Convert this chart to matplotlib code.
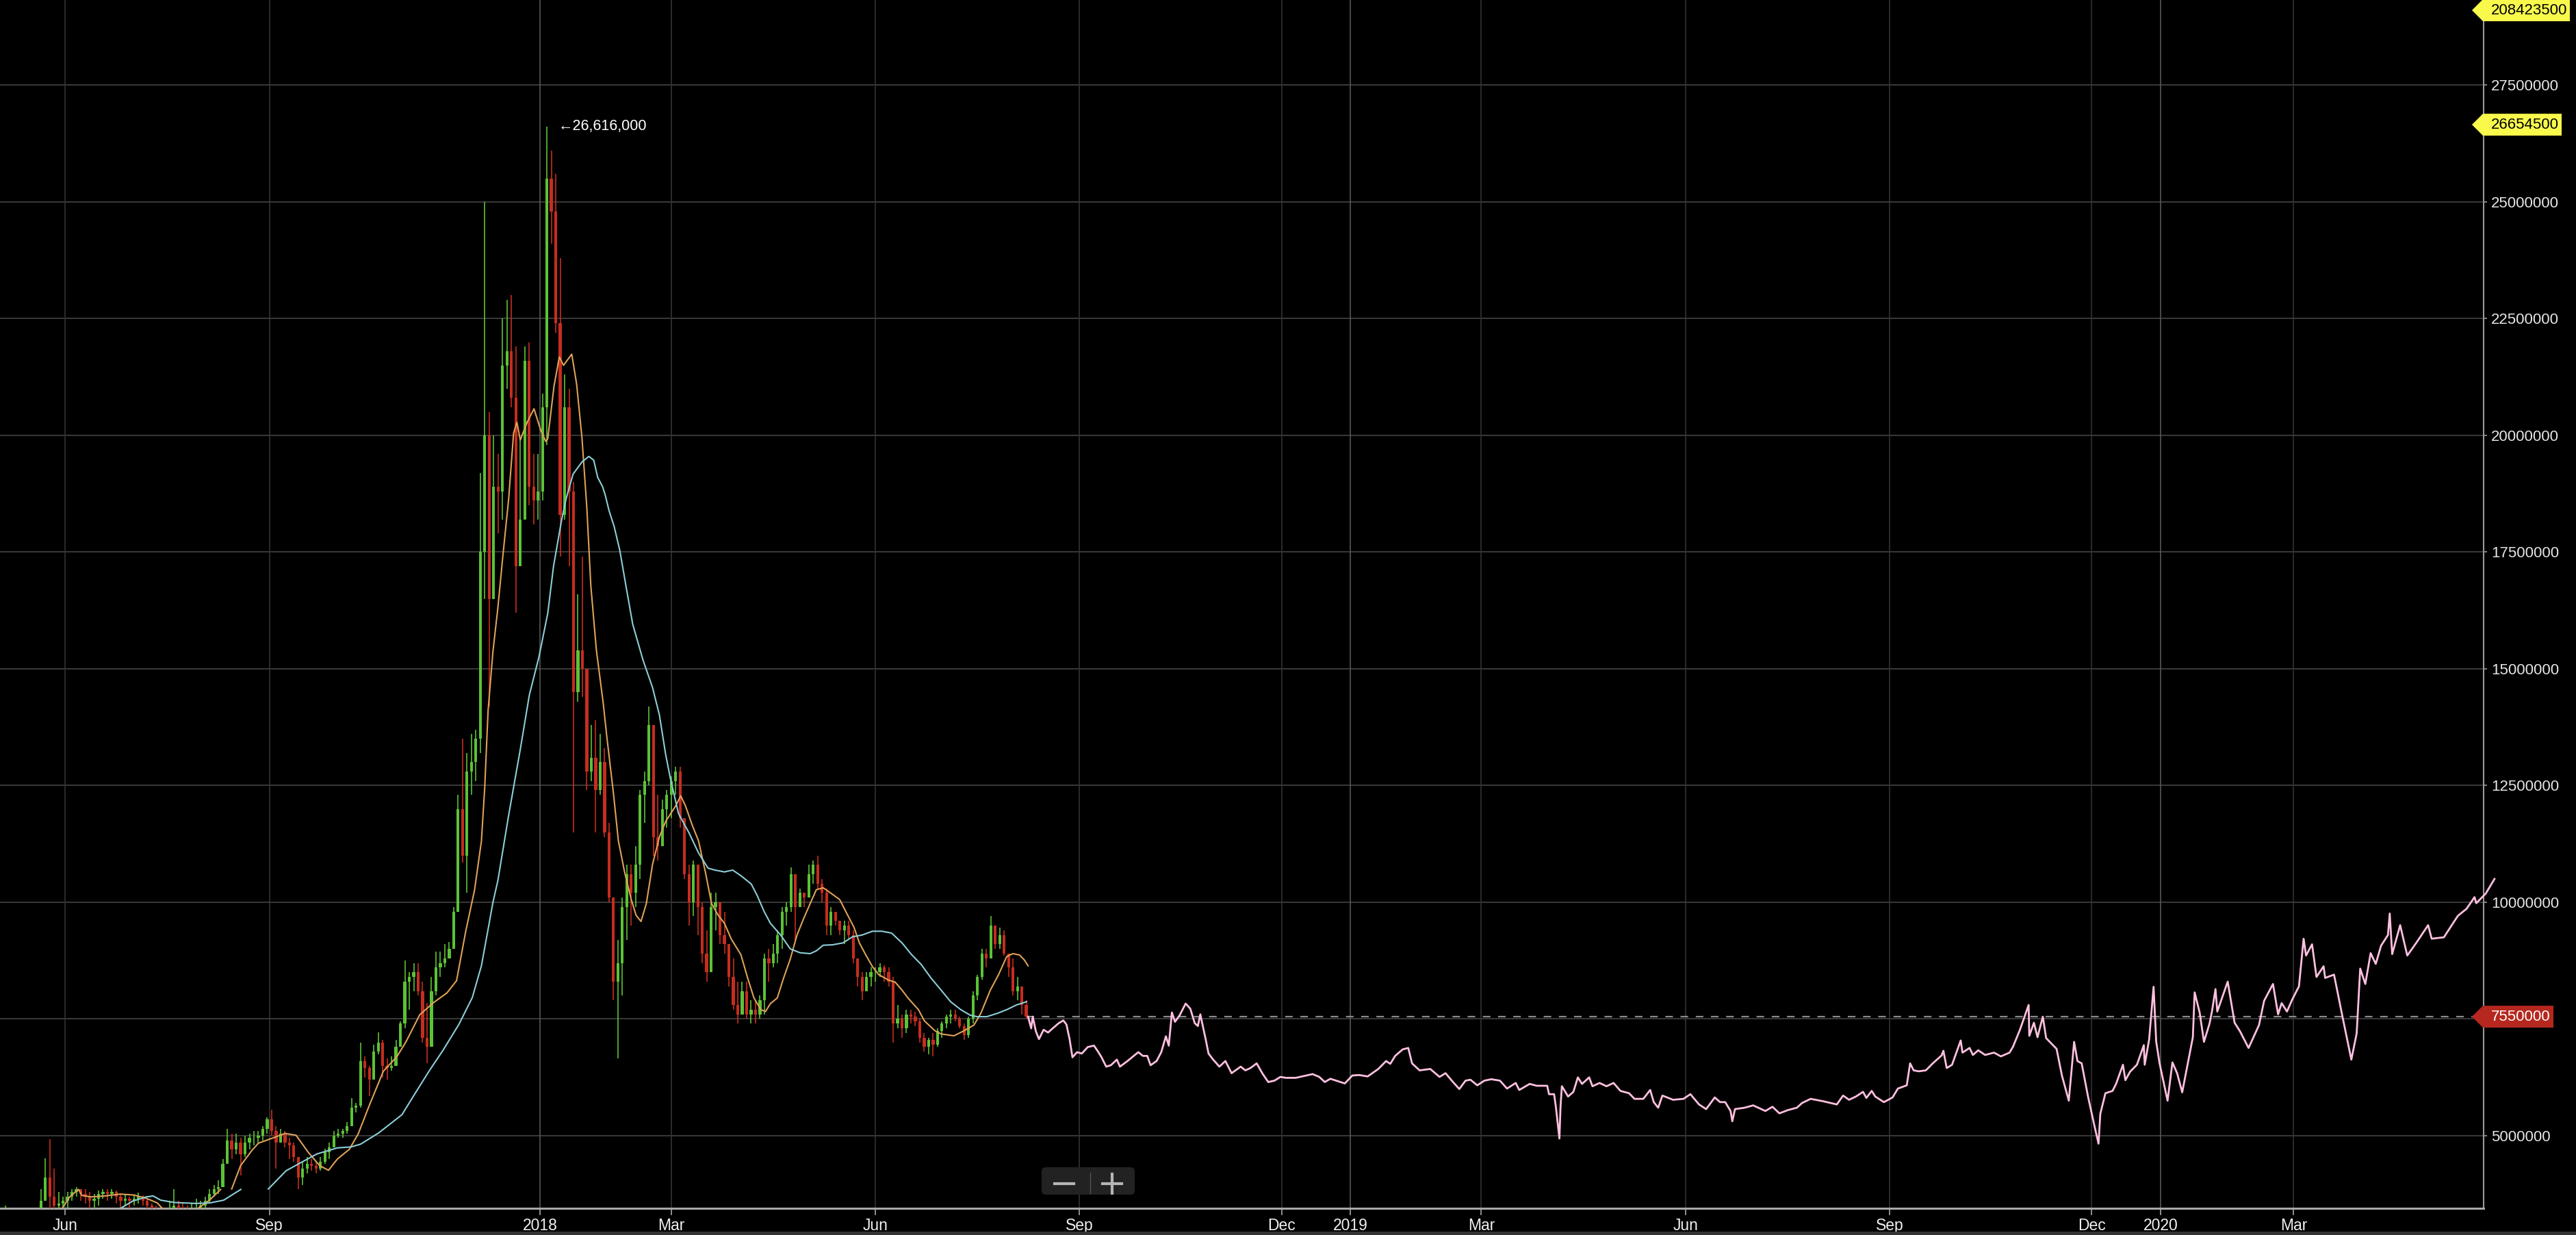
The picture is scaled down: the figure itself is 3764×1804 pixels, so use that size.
import numpy as np
import pandas as pd
import matplotlib
matplotlib.use("Agg")
import matplotlib.pyplot as plt
import matplotlib.dates as mdates
from matplotlib.patches import Polygon, FancyBboxPatch, Rectangle
from matplotlib.transforms import IdentityTransform
from matplotlib.lines import Line2D

plt.rcParams['font.family'] = ['Liberation Sans', 'DejaVu Sans']

# prices in millions (KRW), 2-day candles starting 2017-05-01
first_open = 2.2
close = [
    2.3, 2.4, 2.6, 2.7, 2.9, 3.0, 2.95, 3.05, 3.2, 3.3, 3.6, 4.1, 3.7, 3.5, 3.55, 3.6,          # May 17
    3.7, 3.8, 3.85, 3.75, 3.7, 3.6, 3.65, 3.75, 3.8, 3.75, 3.8, 3.7, 3.6, 3.65, 3.6,             # Jun
    3.65, 3.7, 3.6, 3.5, 3.4, 3.3, 3.1, 2.9, 3.4, 3.5, 3.45, 3.4, 3.35, 3.4, 3.45,               # Jul
    3.5, 3.6, 3.75, 3.85, 3.9, 4.4, 4.9, 4.7, 4.85, 4.6, 4.85, 4.95, 4.95, 5.0, 5.15, 5.35,      # Aug
    5.1, 4.85, 5.05, 4.85, 4.8, 4.55, 4.1, 4.3, 4.4, 4.35, 4.3, 4.45, 4.65, 4.75, 5.0,           # Sep
    5.05, 5.1, 5.2, 5.6, 5.65, 6.6, 6.45, 6.2, 6.8, 7.0, 6.5, 6.45, 6.5, 6.9, 7.4,               # Oct
    8.3, 8.4, 8.5, 8.1, 7.1, 6.9, 8.1, 8.6, 8.7, 8.8, 9.0, 9.8, 12.0, 11.0, 12.8,                # Nov
    13.0, 13.5, 17.5, 20.0, 16.5, 18.9, 18.8, 21.5, 21.8, 20.8, 17.2, 18.2, 21.6, 18.9, 18.6, 18.8,  # Dec
    20.6, 25.5, 24.8, 22.4, 18.3, 20.6, 18.8, 14.5, 15.4, 15.0, 12.8, 13.1, 12.4, 13.0, 11.5,    # Jan 18
    10.1, 8.3, 8.7, 9.9, 10.6, 10.2, 10.8, 12.3, 12.6, 13.8, 11.4, 11.2, 12.0, 12.3,             # Feb
    12.6, 12.8, 11.8, 10.6, 10.0, 10.8, 9.9, 8.9, 8.5, 9.9, 10.0, 9.3, 9.1, 8.4, 7.8, 7.6,       # Mar
    8.1, 7.6, 7.7, 7.6, 7.9, 8.8, 8.7, 8.9, 9.3, 9.8, 9.9, 10.6, 9.9, 10.2, 10.1,                # Apr
    10.6, 10.8, 10.4, 10.2, 9.5, 9.8, 9.6, 9.4, 9.5, 9.3, 8.8, 8.4, 8.1, 8.4, 8.5,               # May
    8.5, 8.6, 8.5, 8.3, 7.4, 7.5, 7.3, 7.6, 7.55, 7.45, 7.1, 6.9, 7.05, 6.95, 7.25,              # Jun
    7.4, 7.55, 7.6, 7.5, 7.35, 7.15, 7.5, 8.0, 8.4, 8.9, 8.8, 9.5, 9.1, 9.3, 8.9, 8.6,           # Jul
    8.1, 8.2, 7.8, 7.55,                                                                          # Aug
]
high = [
    2.4, 2.5, 3.5, 2.8, 3.0, 3.2, 3.1, 3.2, 3.35, 3.4, 3.85, 4.52, 4.93, 4.3, 3.8, 3.7,
    3.8, 3.85, 3.9, 3.85, 3.85, 3.8, 3.75, 3.82, 3.86, 3.85, 3.86, 3.82, 3.75, 3.75, 3.7,
    3.72, 3.78, 3.72, 3.65, 3.55, 3.5, 3.35, 3.2, 3.6, 3.85, 3.6, 3.55, 3.5, 3.55, 3.65,
    3.6, 3.7, 3.85, 3.95, 4.05, 4.5, 5.15, 5.05, 5.05, 4.95, 5.0, 5.05, 5.1, 5.1, 5.2, 5.4,
    5.55, 5.2, 5.15, 5.1, 4.95, 4.85, 4.5, 4.45, 4.55, 4.5, 4.45, 4.55, 4.72, 4.85, 5.1,
    5.15, 5.15, 5.3, 5.8, 5.7, 7.0, 6.7, 6.5, 6.95, 7.22, 7.05, 6.65, 6.7, 7.05, 7.45,
    8.75, 8.5, 8.7, 8.7, 8.3, 7.85, 8.4, 8.95, 8.95, 9.1, 9.15, 9.9, 12.3, 13.5, 13.2,
    13.6, 13.7, 19.2, 25.0, 20.5, 20.0, 19.6, 22.5, 22.9, 23.0, 21.9, 19.9, 21.9, 22.0, 19.6, 19.6,
    20.9, 26.616, 26.1, 25.6, 23.8, 21.3, 21.0, 19.0, 16.6, 17.4, 14.9, 13.8, 13.9, 13.6, 13.3,
    11.7, 10.1, 9.2, 10.1, 10.8, 10.8, 11.2, 12.4, 12.8, 14.2, 13.6, 12.3, 12.2, 12.4,
    12.7, 12.9, 12.9, 11.7, 10.8, 10.9, 10.8, 10.0, 9.4, 10.2, 10.2, 10.0, 9.8, 9.1, 8.8, 8.3,
    8.3, 8.3, 7.9, 7.9, 8.0, 8.9, 9.0, 9.1, 9.4, 9.9, 10.0, 10.75, 10.3, 10.3, 10.2,
    10.8, 10.9, 11.0, 10.5, 10.3, 9.9, 9.8, 9.6, 9.6, 9.6, 9.4, 8.8, 8.5, 8.5, 8.6,
    8.6, 8.7, 8.65, 8.6, 8.4, 7.8, 7.6, 7.7, 7.7, 7.65, 7.5, 7.2, 7.1, 7.2, 7.3,
    7.45, 7.6, 7.7, 7.7, 7.55, 7.4, 7.55, 8.1, 8.45, 9.0, 9.0, 9.7, 9.5, 9.45, 9.4, 8.9,
    8.8, 8.4, 8.2, 7.9,
]
low = [
    2.2, 2.3, 2.4, 2.6, 2.7, 2.9, 2.8, 2.9, 3.0, 3.1, 3.3, 3.6, 3.4, 3.2, 3.3, 3.4,
    3.45, 3.6, 3.7, 3.6, 3.55, 3.45, 3.4, 3.5, 3.65, 3.6, 3.65, 3.55, 3.45, 3.5, 3.45,
    3.5, 3.55, 3.5, 3.4, 3.3, 3.2, 2.9, 2.7, 2.9, 3.3, 3.35, 3.3, 3.2, 3.25, 3.3,
    3.35, 3.45, 3.55, 3.7, 3.75, 3.9, 4.4, 4.5, 4.6, 4.15, 4.55, 4.7, 4.8, 4.85, 4.9, 5.05,
    5.0, 4.3, 4.85, 4.75, 4.5, 4.45, 3.85, 3.95, 4.2, 4.25, 4.2, 4.25, 4.4, 4.5, 4.75,
    4.95, 4.95, 5.05, 5.2, 5.5, 5.6, 6.25, 5.85, 6.3, 6.75, 6.25, 6.2, 6.4, 6.6, 6.95,
    7.3, 7.7, 8.1, 8.0, 7.0, 6.55, 7.5, 8.0, 8.4, 8.6, 8.8, 9.05, 9.8, 10.85, 10.2,
    12.3, 12.6, 13.2, 16.5, 14.2, 17.5, 17.9, 18.2, 21.0, 20.6, 16.2, 17.6, 18.8, 18.5, 18.1, 18.2,
    18.6, 19.8, 24.1, 22.2, 17.4, 18.2, 17.2, 11.5, 14.3, 14.4, 12.4, 12.6, 11.5, 12.3, 11.4,
    10.0, 7.9, 6.65, 8.0, 9.2, 9.5, 9.9, 10.5, 11.7, 12.5, 11.0, 10.9, 11.3, 11.6,
    11.8, 12.3, 11.6, 10.5, 9.5, 9.7, 9.3, 8.7, 8.3, 8.6, 9.4, 9.1, 8.9, 8.2, 7.7, 7.4,
    7.6, 7.5, 7.4, 7.4, 7.5, 7.6, 8.3, 8.6, 8.7, 9.0, 9.5, 9.8, 9.2, 9.9, 9.9,
    10.1, 10.4, 10.3, 10.0, 9.3, 9.3, 9.5, 9.3, 9.1, 9.2, 8.7, 8.2, 7.9, 8.1, 8.2,
    8.3, 8.4, 8.3, 8.2, 7.0, 7.3, 7.1, 7.2, 7.4, 7.35, 7.0, 6.8, 6.75, 6.7, 6.9,
    7.1, 7.3, 7.4, 7.45, 7.3, 7.05, 7.1, 7.4, 7.9, 8.35, 8.6, 9.0, 9.0, 9.0, 8.85, 8.4,
    8.0, 7.9, 7.6, 7.5,
]

# moving averages as shown on the chart (days from 2018-01-01, value)
orange_day = [-216, -212, -208, -206.5, -202.5, -196.3, -189.2, -183, -177.5, -172.5, -170.4, -165, -158,
              -154, -149, -144, -141.5, -139, -135, -130, -127, -120, -115, -110, -104.6, -99.4, -95.4,
              -91.4, -86, -82, -77, -70.7, -64.5, -60.5, -54.3, -48.1, -42, -37.7, -33.6, -29.6, -26.5,
              -25, -23.5, -21.3, -19.1, -16.7, -14.2, -12, -10.5, -9, -5.9, -2.8, 0.3, 2.5, 3.4, 6.2,
              8.6, 10.5, 14.2, 16.4, 18.8, 21, 22.8, 25.3, 28.4, 29.9, 33, 35.2, 38, 41, 43.2, 45.4,
              47.8, 50.6, 53.7, 56.5, 61.1, 63.3, 65.4, 68.5, 71.3, 74.4, 77.2, 80.2, 83, 86.1, 90.4,
              93.5, 96.3, 99.4, 101.5, 103.7, 106.8, 109.6, 112.7, 115.7, 118.5, 121.6, 124.4, 127.5,
              130.2, 134.9, 137.7, 141.4, 143.8, 146.6, 149.7, 152.5, 157.1, 159.9, 163, 165.7, 170.4,
              173.1, 177.8, 180.6, 186.4, 191, 195.4, 198.5, 202.8, 206.5, 210.2, 213, 216, 218.2, 219.8]
orange_val = [3.40, 3.69, 3.85, 3.72, 3.69, 3.71, 3.75, 3.73, 3.66, 3.56, 3.45, 3.33, 3.30,
              3.45, 3.62, 3.85, np.nan, 3.86, 4.36, 4.68, 4.84, 4.96, 5.05, 5.01, 4.65, 4.36, 4.26,
              4.50, 4.71, 5.04, 5.65, 6.38, 6.70, 7.01, 7.59, 7.85, 8.06, 8.32, 9.37, 10.26, 11.31,
              12.46, 14.1, 15.37, 16.3, 17.48, 18.65, 20.05, 20.28, 19.9, 20.28, 20.57, 20.1, 19.87, 19.93, 21.05,
              21.68, 21.5, 21.74, 21.1, 19.95, 18.45, 16.78, 15.4, 14.26, 13.59, 12.33, 11.32, 10.65, 10.06, 9.72, 9.59,
              9.97, 10.81, 11.40, 11.73, 12.07, 12.28, 12.07, 11.65, 11.32, 10.65, 9.97, 9.72, 9.55, 9.21, 8.88,
              8.37, 7.95, 7.70, 7.66, 7.83, 7.95, 8.37, 8.79, 9.30, 9.63, 9.97, 10.27, 10.31,
              10.22, 10.06, 9.80, 9.46, 9.13, 8.88, 8.62, 8.45, 8.33, 8.29, 8.12, 7.95, 7.70,
              7.46, 7.25, 7.18, 7.14, 7.25, 7.37, 7.62, 8.12, 8.45, 8.84, 8.90, 8.87, 8.76, 8.64]
cyan_day = [-190, -183.6, -177.5, -174.4, -171, -164.8, -155.2, -149, -142.6, -134.9, -128, -122.5, -114.5,
            -108, -100.6, -91.4, -85.2, -80.9, -72.8, -62.3, -56.2, -50, -43.8, -36.7, -30.6, -26.5, -23.5,
            -21.3, -19.1, -14.2, -9, -4.9, -0.6, 3.4, 6, 9.6, 11.7, 14.8, 18.8, 21.9, 24.1, 25.9, 28.1, 29.3,
            31, 33.3, 35.8, 38.9, 41.7, 46.3, 50.6, 53.7, 56.5, 58.6, 62.3, 67, 71.3, 75.6, 78.7, 83, 86.7,
            90.4, 95.1, 97.8, 100.9, 103.7, 108.3, 112.7, 117, 121.6, 124.4, 127.5, 131.8, 136.4, 140.7,
            145.1, 149.7, 154, 158.3, 163, 167.3, 171.6, 176.2, 180.6, 184.9, 189.5, 193.8, 196.9, 201.2,
            205.9, 210.2, 214.5, 219.1]
cyan_val = [3.42, 3.60, 3.69, 3.71, 3.62, 3.57, 3.55, 3.56, 3.62, 3.85, np.nan, 3.86, 4.25,
            4.42, 4.61, 4.74, 4.76, 4.82, 5.06, 5.45, 5.92, 6.39, 6.83, 7.38, 7.96, 8.64, 9.42,
            10.0, 10.46, 11.87, 13.27, 14.44, 15.25, 16.19, 17.2, 18.18, 18.65, 19.17, 19.43, 19.55, 19.47, 19.1, 18.9, 18.72,
            18.39, 18.05, 17.55, 16.70, 15.95, 15.19, 14.6, 14.01, 13.17, 12.66, 11.90, 11.49, 11.06, 10.73, 10.69, 10.65, 10.69,
            10.57, 10.39, 10.14, 9.80, 9.55, 9.30, 9.0, 8.92, 8.90, 8.96, 9.08, 9.09, 9.13, 9.26,
            9.30, 9.38, 9.38, 9.34, 9.13, 8.88, 8.67, 8.37, 8.12, 7.87, 7.70, 7.58, 7.55, 7.55,
            7.62, 7.70, 7.80, 7.87]

# price line after the candles (days from 2018-01-01, value)
pink_day = [219.8, 221.2, 221.9, 223.3, 224.7, 226.8, 228.8, 230.9, 233.6, 235.7, 237.1, 238.5, 239.8, 241.9,
            244, 246.7, 249.5, 251.5, 252.9, 255, 257.1, 259.8, 261.2, 264.6, 267.4, 269.5, 271.5, 273.5,
            275, 277.7, 279.8, 281.9, 283.2, 284.6, 286, 288.1, 290.8, 292.9, 294.9, 296.3, 297.4, 299.8,
            301.1, 303.2, 306, 308.7, 311.5, 315.6, 317.7, 320, 322.8, 325.3, 328, 330.8, 333.5, 336, 340.4,
            348, 351, 353.5, 356, 362.5, 365.9, 369, 372.8, 377.6, 381.1, 383, 385.2, 388.6, 391.1, 392.8,
            396.2, 401, 405.2, 407.9, 410.7, 414.1, 416.9, 419.1, 422.2, 425.4, 428.5, 432.4, 435.6, 439.5,
            441.1, 445.8, 449, 453.7, 454.5, 456.8, 457.6, 459.2, 459.7, 460.3, 461.6, 463.1, 465.5, 467.5,
            469.4, 472.6, 474.1, 477.3, 480.4, 483.6, 486.7, 490.6, 493, 497, 500.1, 501.7, 503.7, 505.6,
            510.4, 515.1, 518.2, 522.1, 525.3, 529.2, 531.6, 533.9, 536.3, 537.1, 538.3, 542.6, 546.5, 552,
            555.2, 558.3, 562.2, 566.2, 568.5, 572.4, 577.9, 584.2, 587, 589.7, 592.8, 596, 597.5, 599.9,
            601.5, 605.4, 609.3, 611.7, 615.7, 617.2, 618.8, 621.1, 624.3, 627.4, 631.4, 632.2, 633.7, 636.1,
            640, 640.8, 644, 645.5, 647.9, 651, 655, 658.1, 662, 663.6, 666.7, 670.6, 670.9, 673, 674.6, 677,
            678.5, 683.2, 685.6, 688.7, 691.1, 692.6, 694.5, 697.4, 700.5, 702.1, 702.9, 705.2, 708.4, 710,
            713.1, 714.2, 716.3, 719.4, 722.5, 722.9, 724.9, 726.9, 728.1, 729.6, 733.2, 735.4, 737.5, 739.8,
            744.6, 745.4, 747.7, 749.6, 752.1, 753.2, 754.8, 755.6, 760.3, 763.4, 765.8, 769.7, 774.4, 776.7,
            780.7, 783, 784.6, 787, 789.3, 792.4, 794.5, 795.6, 798.3, 800.3, 803.5, 804.2, 808.2, 812.1, 816,
            818.4, 820, 822.3, 824.7, 827, 829.4, 832.5, 833.3, 834.4, 838, 841.2, 845.1, 850.6, 852.2,
            857.7, 864, 867.9, 871.5, 872.3, 876.6, 880.5]
pink_val = [7.55, 7.30, 7.55, 7.24, 7.07, 7.27, 7.21, 7.30, 7.41, 7.47, 7.38, 7.07, 6.68, 6.79,
            6.76, 6.90, 6.93, 6.79, 6.68, 6.48, 6.51, 6.63, 6.48, 6.60, 6.71, 6.79, 6.71, 6.71,
            6.51, 6.60, 6.79, 7.13, 6.93, 7.64, 7.44, 7.58, 7.83, 7.72, 7.41, 7.35, 7.60, 7.07,
            6.76, 6.63, 6.48, 6.60, 6.34, 6.48, 6.40, 6.45, 6.55, 6.34, 6.15, 6.18, 6.26, 6.24, 6.24,
            6.32, 6.26, 6.15, 6.22, 6.12, 6.29, 6.30, 6.27, 6.43, 6.60, 6.54, 6.71, 6.85, 6.88, 6.55,
            6.40, 6.43, 6.26, 6.34, 6.18, 6.00, 6.18, 6.20, 6.08, 6.18, 6.21, 6.18, 6.01, 6.13,
            5.98, 6.11, 6.07, 6.07, 5.89, 5.89, 5.62, 4.94, 5.62, 6.06, 5.96, 5.84, 5.94, 6.25,
            6.11, 6.25, 6.06, 6.13, 6.06, 6.13, 5.96, 5.91, 5.79, 5.79, 5.98, 5.72, 5.60, 5.86,
            5.77, 5.79, 5.89, 5.67, 5.57, 5.82, 5.72, 5.72, 5.53, 5.31, 5.57, 5.60, 5.65, 5.53,
            5.62, 5.48, 5.55, 5.60, 5.70, 5.79, 5.74, 5.67, 5.86, 5.77, 5.84, 5.94, 5.81, 5.96,
            5.84, 5.72, 5.82, 6.01, 6.08, 6.55, 6.40, 6.38, 6.40, 6.55, 6.72, 6.82, 6.45, 6.52,
            7.04, 6.78, 6.88, 6.73, 6.83, 6.73, 6.78, 6.70, 6.78, 6.91, 7.27, 7.80, 7.14, 7.42, 7.11, 7.55,
            7.09, 6.86, 6.29, 5.75, 7.01, 6.60, 6.55, 5.83, 5.16, 4.83, 5.47, 5.91, 5.96, 6.11,
            6.52, 6.19, 6.37, 6.52, 6.94, 6.52, 7.06, 8.19, 7.01, 6.55, 5.75, 6.57, 6.34, 5.93,
            7.11, 8.07, 7.63, 7.01, 7.40, 7.66, 8.14, 7.66, 8.30, 7.42, 7.24, 6.88, 7.37, 7.89,
            8.25, 7.60, 7.84, 7.66, 7.91, 8.20, 9.22, 8.86, 9.10, 8.40, 8.63, 8.38, 8.45, 7.53, 6.63,
            7.19, 8.58, 8.25, 8.91, 8.68, 9.07, 9.30, 9.76, 8.89, 9.51, 8.86, 9.12, 9.51, 9.22,
            9.25, 9.71, 9.86, 10.11, 9.98, 10.19, 10.50]

last_price = 7.55
high_tag = 26.6545
top_tag = "208423500"
peak_text = "\u219026,616,000"

tick_dates = ['2017-06-01', '2017-09-01', '2018-01-01', '2018-03-01', '2018-06-01', '2018-09-01',
              '2018-12-01', '2019-01-01', '2019-03-01', '2019-06-01', '2019-09-01', '2019-12-01',
              '2020-01-01', '2020-03-01']
tick_labels = ['Jun', 'Sep', '2018', 'Mar', 'Jun', 'Sep', 'Dec', '2019', 'Mar', 'Jun', 'Sep', 'Dec', '2020', 'Mar']
y_ticks = [5, 7.5, 10, 12.5, 15, 17.5, 20, 22.5, 25, 27.5]

GREEN = '#5cc236'
RED = '#c62d1f'

W, H = 3764, 1804
fig = plt.figure(figsize=((W + 0.01) / 100, (H + 0.01) / 100), dpi=100)
fig.patch.set_facecolor('black')
ax = fig.add_axes([0, 39 / H, 3629 / W, 1765 / H])
ax.set_facecolor('black')

base = mdates.date2num(pd.Timestamp('2018-01-01'))
ax.set_xlim(base - 243.4, base + 875.6)
ax.set_ylim(3.4457e6, 29.325e6)

# grid
for v in y_ticks:
    ax.axhline(v * 1e6, color='#3a3a3a', lw=1.4, zorder=0)
for d, lab in zip(tick_dates, tick_labels):
    col = '#575757' if lab.isdigit() else '#333333'
    ax.axvline(mdates.date2num(pd.Timestamp(d)), color=col, lw=1.2, zorder=0)

# candles
cdates = mdates.date2num(pd.date_range('2017-05-01', periods=len(close), freq='2D'))
c = np.array(close) * 1e6
hi = np.array(high) * 1e6
lo = np.array(low) * 1e6
o = np.concatenate([[first_open], close[:-1]]) * 1e6
cols = np.where(c >= o, GREEN, RED)
ax.vlines(cdates, lo, hi, colors=cols, lw=1.2, zorder=3)
ax.bar(cdates, np.abs(c - o), bottom=np.minimum(o, c), width=1.3, color=cols, linewidth=0, zorder=3)

# moving averages
ax.plot(base + np.array(orange_day), np.array(orange_val) * 1e6, color='#e0a258', lw=1.5, zorder=4)
ax.plot(base + np.array(cyan_day), np.array(cyan_val) * 1e6, color='#8ccfd9', lw=1.5, zorder=4)

# pink line
ax.plot(base + np.array(pink_day), np.array(pink_val) * 1e6, color='#ffc0e0', lw=2.0, zorder=5, clip_on=False)

# last price dashed line
ax.hlines(last_price * 1e6, cdates[-1], ax.get_xlim()[1], colors='#8a8a8a', lw=1.6,
          linestyles=(0, (5, 5)), zorder=2)

# peak label
ipk = int(np.argmax(high))
ax.annotate(peak_text, xy=(cdates[ipk], high[ipk] * 1e6), xytext=(12, 0), textcoords='offset points',
            color='white', fontsize=15.5, va='center', ha='left', zorder=7)

# axes styling
ax.yaxis.tick_right()
ax.set_yticks([v * 1e6 for v in y_ticks])
ax.set_yticklabels([f"{int(v * 1e6)}" for v in y_ticks])
ax.set_xticks([mdates.date2num(pd.Timestamp(d)) for d in tick_dates])
ax.set_xticklabels(tick_labels)
ax.tick_params(axis='y', length=3.6, width=1.2, colors='#9a9a9a', labelcolor='#e6e6e6', labelsize=16, pad=4.5)
ax.tick_params(axis='x', length=7, width=1.2, colors='#a8a8a8', labelcolor='#f0f0f0', labelsize=16.5, pad=3)
for s in ['top', 'left']:
    ax.spines[s].set_visible(False)
ax.spines['right'].set_color('#9a9a9a')
ax.spines['right'].set_linewidth(1.5)
ax.spines['bottom'].set_color('#a8a8a8')
ax.spines['bottom'].set_linewidth(2.2)

px = IdentityTransform()


def tag(yc, right, text, face, tc):
    pts = [(3612, yc), (3628, yc + 16), (right, yc + 16), (right, yc - 16), (3628, yc - 16)]
    fig.add_artist(Polygon(pts, closed=True, transform=px, facecolor=face, edgecolor='none', zorder=5))
    fig.text(3640, yc, text, transform=px, color=tc, fontsize=16, va='center', ha='left', zorder=6)


y_high = ax.transData.transform((base, high_tag * 1e6))[1]
y_last = ax.transData.transform((base, last_price * 1e6))[1]
tag(H - 15, 3755, top_tag, '#f9f94c', 'black')
tag(y_high, 3743, f"{int(round(high_tag * 1e6))}", '#f9f94c', 'black')
tag(y_last, 3731, f"{int(round(last_price * 1e6))}", '#b5271f', 'white')

# zoom control
fig.add_artist(FancyBboxPatch((1522, H - 1745), 136, 40, boxstyle='round,pad=0,rounding_size=6',
                              transform=px, facecolor='#222222', edgecolor='none', zorder=5))
fig.add_artist(Line2D([1541, 1569], [H - 1729, H - 1729], transform=px, color='#b5b5b5', lw=3, zorder=6))
fig.add_artist(Line2D([1611, 1639], [H - 1729, H - 1729], transform=px, color='#b5b5b5', lw=3, zorder=6))
fig.add_artist(Line2D([1625, 1625], [H - 1715, H - 1743], transform=px, color='#b5b5b5', lw=3, zorder=6))
fig.add_artist(Line2D([1593, 1593], [H - 1713, H - 1743], transform=px, color='#555555', lw=1, zorder=6))

# bottom strip
fig.add_artist(Rectangle((0, 0), W, 5, transform=px, facecolor='#333333', edgecolor='none', zorder=5))

fig.savefig('out.png', dpi=100, facecolor='black')
